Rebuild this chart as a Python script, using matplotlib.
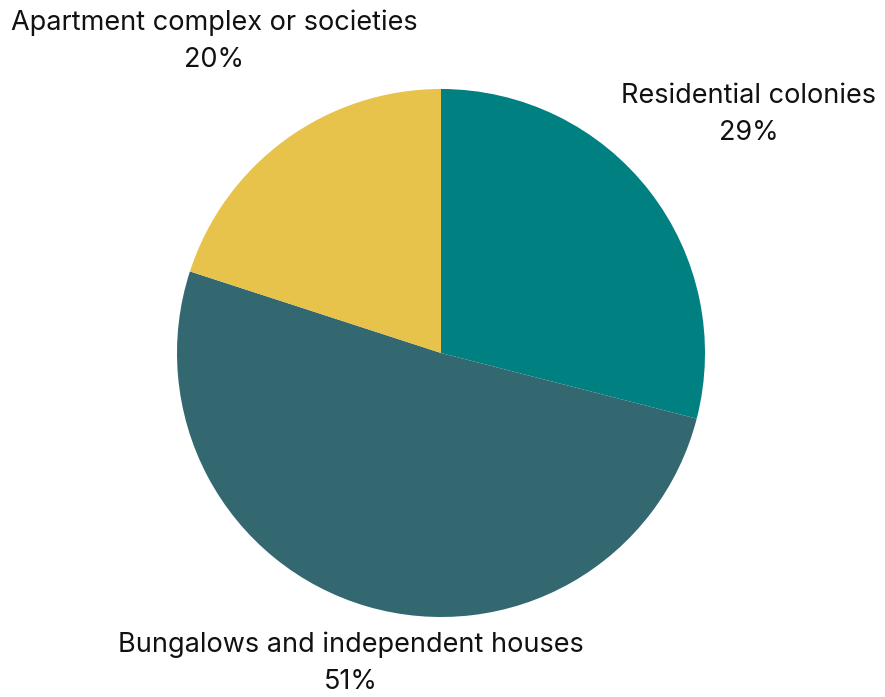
import numpy as np
import matplotlib.pyplot as plt

plt.rcParams['font.family'] = ['Inter', 'DejaVu Sans']

# Residential share by housing type
categories = ['Residential colonies', 'Bungalows and independent houses',
              'Apartment complex or societies']
shares = [29, 51, 20]
colors = ['#008080', '#336871', '#E7C34B']
label_dist = [1.475, 1.225, 1.46]

fig = plt.figure(figsize=(8.85, 6.97), dpi=100)
r_px = 264
ax = fig.add_axes([441 / 885 - r_px / 885, 1 - 353 / 697 - r_px / 697,
                   2 * r_px / 885, 2 * r_px / 697])

wedges, _ = ax.pie(shares, colors=colors, startangle=90, counterclock=False,
                   radius=1, wedgeprops=dict(linewidth=0))

for w, name, val, d in zip(wedges, categories, shares, label_dist):
    mid = np.deg2rad((w.theta1 + w.theta2) / 2)
    ax.text(d * np.cos(mid), d * np.sin(mid), f'{name}\n{val}%',
            ha='center', va='center', fontsize=19.5, color='#111111',
            linespacing=1.55)

ax.set_xlim(-1, 1)
ax.set_ylim(-1, 1)
ax.set_aspect('equal')
ax.axis('off')

fig.savefig('out.png', dpi=100)
